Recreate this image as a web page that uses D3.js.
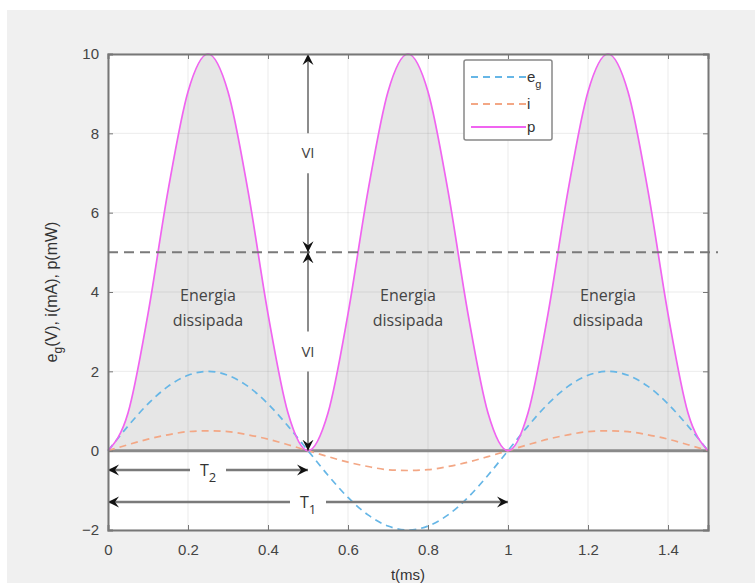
<!DOCTYPE html>
<html>
<head>
<meta charset="utf-8">
<script src="https://cdn.jsdelivr.net/npm/d3@7"></script>
<style>
  body { margin: 0; background: #fff; }
  svg { display: block; font-family: "Liberation Sans", Arial, sans-serif; }
</style>
</head>
<body>
<svg id="chart" width="755" height="583"></svg>
<script>
// time samples (ms) and values
const t = [0, 0.05, 0.1, 0.15, 0.2, 0.25, 0.3, 0.35, 0.4, 0.45, 0.5,
           0.55, 0.6, 0.65, 0.7, 0.75, 0.8, 0.85, 0.9, 0.95, 1,
           1.05, 1.1, 1.15, 1.2, 1.25, 1.3, 1.35, 1.4, 1.45, 1.5];
const eg = [0, 0.62, 1.18, 1.62, 1.9, 2, 1.9, 1.62, 1.18, 0.62, 0,
            -0.62, -1.18, -1.62, -1.9, -2, -1.9, -1.62, -1.18, -0.62, 0,
            0.62, 1.18, 1.62, 1.9, 2, 1.9, 1.62, 1.18, 0.62, 0];
const cur = [0, 0.15, 0.29, 0.4, 0.48, 0.5, 0.48, 0.4, 0.29, 0.15, 0,
             -0.15, -0.29, -0.4, -0.48, -0.5, -0.48, -0.4, -0.29, -0.15, 0,
             0.15, 0.29, 0.4, 0.48, 0.5, 0.48, 0.4, 0.29, 0.15, 0];
const pw = [0, 0.95, 3.45, 6.55, 9.05, 10, 9.05, 6.55, 3.45, 0.95, 0,
            0.95, 3.45, 6.55, 9.05, 10, 9.05, 6.55, 3.45, 0.95, 0,
            0.95, 3.45, 6.55, 9.05, 10, 9.05, 6.55, 3.45, 0.95, 0];
const xTicks = [0, 0.2, 0.4, 0.6, 0.8, 1, 1.2, 1.4];
const yTicks = [-2, 0, 2, 4, 6, 8, 10];
const avgLevel = 5;
const energyAt = [0.25, 0.75, 1.25];

const svg = d3.select('#chart');
const W = 755, H = 583;
const annoFont = '"Open Sans", "Noto Sans", sans-serif';
const x = d3.scaleLinear().domain([0, 1.5]).range([108, 708]);
const y = d3.scaleLinear().domain([-2, 10]).range([530, 54]);

// figure background
svg.append('rect').attr('x', 7).attr('y', 10).attr('width', W - 7).attr('height', H - 10).attr('fill', '#f0f0f0');
svg.append('rect').attr('x', x(0)).attr('y', y(10)).attr('width', x(1.5) - x(0)).attr('height', y(-2) - y(10)).attr('fill', '#fff');

// arrowhead marker
const defs = svg.append('defs');
defs.append('marker')
  .attr('id', 'ah')
  .attr('viewBox', '-11 -6 12 12')
  .attr('refX', 0).attr('refY', 0)
  .attr('markerWidth', 12).attr('markerHeight', 12)
  .attr('markerUnits', 'userSpaceOnUse')
  .attr('orient', 'auto')
  .append('path')
  .attr('d', 'M0,0 L-11,-5.5 L-7,0 L-11,5.5 Z')
  .attr('fill', '#111');

const data = t.map((d, i) => ({ t: d, e: eg[i], i: cur[i], p: pw[i] }));

// dissipated energy area
svg.append('path')
  .datum(data)
  .attr('fill', '#e6e6e6')
  .attr('d', d3.area().x(d => x(d.t)).y0(y(0)).y1(d => y(d.p)).curve(d3.curveMonotoneX));

// grid
const grid = svg.append('g').attr('stroke', '#000').attr('stroke-opacity', 0.08).attr('stroke-width', 1);
xTicks.forEach(v => grid.append('line').attr('x1', x(v)).attr('x2', x(v)).attr('y1', y(10)).attr('y2', y(-2)));
yTicks.forEach(v => grid.append('line').attr('x1', x(0)).attr('x2', x(1.5)).attr('y1', y(v)).attr('y2', y(v)));

// zero line
svg.append('line').attr('x1', x(0)).attr('x2', x(1.5)).attr('y1', y(0)).attr('y2', y(0))
  .attr('stroke', '#8a8a8a').attr('stroke-width', 3);

// curves
const line = key => d3.line().x(d => x(d.t)).y(d => y(d[key])).curve(d3.curveMonotoneX);
svg.append('path').datum(data).attr('fill', 'none').attr('stroke', '#f3a785').attr('stroke-width', 1.7)
  .attr('stroke-dasharray', '7,5').attr('d', line('i'));
svg.append('path').datum(data).attr('fill', 'none').attr('stroke', '#66b6e6').attr('stroke-width', 1.7)
  .attr('stroke-dasharray', '7,5').attr('d', line('e'));
svg.append('path').datum(data).attr('fill', 'none').attr('stroke', '#f064f0').attr('stroke-width', 1.7)
  .attr('d', line('p'));

// average power line
svg.append('line').attr('x1', x(0)).attr('x2', 718).attr('y1', y(avgLevel)).attr('y2', y(avgLevel))
  .attr('stroke', '#7a7a7a').attr('stroke-width', 2).attr('stroke-dasharray', '10,6');

// vertical VI arrows
const vx = x(0.5);
function vArrow(a, b) {
  const mid = (y(a) + y(b)) / 2;
  [[mid - 20, y(a)], [mid + 20, y(b)]].forEach(([s, e]) => {
    svg.append('line').attr('x1', vx).attr('x2', vx).attr('y1', s).attr('y2', e)
      .attr('stroke', '#666').attr('stroke-width', 1.5).attr('marker-end', 'url(#ah)');
  });
  svg.append('text').attr('x', vx).attr('y', mid).attr('dy', '0.35em').attr('text-anchor', 'middle')
    .attr('font-family', annoFont).attr('font-size', 15).attr('fill', '#444').text('VI');
}
vArrow(10, avgLevel);
vArrow(avgLevel, 0);

// horizontal period arrows
function hArrow(t1, yy, label, sub, gap) {
  const mid = x(t1 / 2);
  [[mid - gap, x(0)], [mid + gap, x(t1)]].forEach(([s, e]) => {
    svg.append('line').attr('x1', s).attr('x2', e).attr('y1', yy).attr('y2', yy)
      .attr('stroke', '#7a7a7a').attr('stroke-width', 2.5).attr('marker-end', 'url(#ah)');
  });
  const tx = svg.append('text').attr('x', mid).attr('y', yy).attr('dy', '0.35em').attr('text-anchor', 'middle')
    .attr('font-family', annoFont).attr('font-size', 16).attr('fill', '#333');
  tx.append('tspan').text(label);
  tx.append('tspan').attr('font-size', 13).attr('dy', 6).text(sub);
}
hArrow(0.5, 470, 'T', '2', 18);
hArrow(1, 502, 'T', '1', 18);

// energy labels
energyAt.forEach(v => {
  const g = svg.append('text').attr('text-anchor', 'middle')
    .attr('font-family', annoFont).attr('font-size', 16).attr('fill', '#444');
  g.append('tspan').attr('x', x(v)).attr('y', y(4) + 9).text('Energia');
  g.append('tspan').attr('x', x(v)).attr('y', y(4) + 34).text('dissipada');
});

// axes
const axCol = '#777';
const ax = svg.append('g');
ax.append('g').attr('transform', `translate(0,${y(-2)})`)
  .call(d3.axisBottom(x).tickValues(xTicks).tickSize(-5).tickPadding(14).tickFormat(d3.format('')));
ax.append('g').attr('transform', `translate(${x(0)},0)`)
  .call(d3.axisLeft(y).tickValues(yTicks).tickSize(-5).tickPadding(9));
ax.append('g').attr('transform', `translate(0,${y(10)})`)
  .call(d3.axisTop(x).tickValues(xTicks).tickSize(-5).tickFormat(''));
ax.append('g').attr('transform', `translate(${x(1.5)},0)`)
  .call(d3.axisRight(y).tickValues(yTicks).tickSize(-5).tickFormat(''));
ax.selectAll('.domain').attr('stroke', axCol).attr('stroke-width', 2);
ax.selectAll('.tick line').attr('stroke', axCol).attr('stroke-width', 1);
ax.selectAll('.tick text').attr('font-size', 15).attr('fill', '#444').attr('font-family', '"Liberation Sans", Arial, sans-serif');

// axis labels
svg.append('text').attr('x', (x(0) + x(1.5)) / 2).attr('y', 580).attr('text-anchor', 'middle')
  .attr('font-size', 15).attr('fill', '#333').text('t(ms)');
const yLab = svg.append('text').attr('transform', `translate(57,${(y(10) + y(-2)) / 2}) rotate(-90)`)
  .attr('text-anchor', 'middle').attr('font-size', 16).attr('fill', '#333');
yLab.append('tspan').text('e');
yLab.append('tspan').attr('font-size', 12).attr('dy', 5).text('g');
yLab.append('tspan').attr('dy', -5).text('(V), i(mA), p(mW)');

// legend
const lg = svg.append('g').attr('transform', 'translate(464,60)');
lg.append('rect').attr('width', 88).attr('height', 80).attr('rx', 2)
  .attr('fill', '#fff').attr('stroke', '#888').attr('stroke-width', 1.5);
const legendItems = [
  { name: 'e', sub: 'g', color: '#66b6e6', dash: '7,5', yy: 17 },
  { name: 'i', sub: '', color: '#f3a785', dash: '7,5', yy: 44 },
  { name: 'p', sub: '', color: '#f064f0', dash: null, yy: 67 }
];
legendItems.forEach(d => {
  lg.append('line').attr('x1', 7).attr('x2', 62).attr('y1', d.yy).attr('y2', d.yy)
    .attr('stroke', d.color).attr('stroke-width', 1.8).attr('stroke-dasharray', d.dash);
  const tx = lg.append('text').attr('x', 63).attr('y', d.yy).attr('dy', '0.35em')
    .attr('font-size', 15).attr('fill', '#333');
  tx.append('tspan').text(d.name);
  if (d.sub) tx.append('tspan').attr('font-size', 11).attr('dy', 6).text(d.sub);
});
</script>
</body>
</html>
